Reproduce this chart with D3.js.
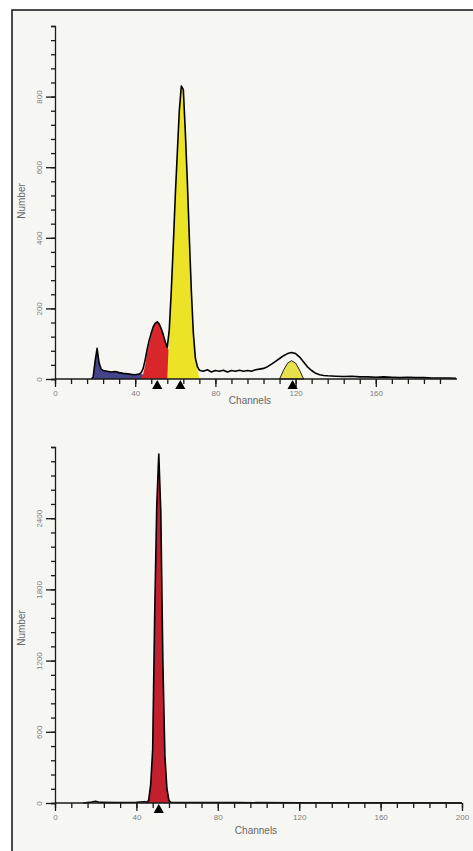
<!DOCTYPE html>
<meta charset="utf-8">
<script src="https://d3js.org/d3.v7.min.js"></script>
<style>
  body { margin: 0; background: #fff; }
  text { font-family: "Liberation Sans", Arial, sans-serif; }
</style>
<div id="my_dataviz"></div>
<script>
  // ---- data: [channel, number] ----
  // upper histogram
  var topOutline = [[18,0],[19,5],[20,50],[21,87],[22,45],[23,28],[24,24],[26,22],[28,20],[30,21],[32,18],[34,16],[36,15],[38,13],[40,12],[42,14],[43,18],[44,30],[45,55],[46,85],[47,110],[48,130],[49,148],[50,158],[51,162],[52,156],[53,142],[54,125],[55,105],[56,90],[57,140],[58,250],[59,380],[60,520],[61,640],[62,760],[63,830],[64,820],[65,700],[66,560],[67,400],[68,250],[69,130],[70,60],[71,35],[72,25],[74,22],[76,26],[78,20],[80,24],[82,22],[84,25],[86,20],[88,24],[90,22],[92,25],[94,22],[96,24],[98,22],[100,26],[102,28],[104,30],[106,35],[108,42],[110,50],[112,58],[114,66],[116,72],[118,75],[120,72],[122,62],[124,48],[126,34],[128,24],[130,16],[132,12],[134,10],[136,9],[140,8],[144,7],[148,8],[152,6],[156,6],[160,5],[164,6],[168,5],[172,4],[176,5],[180,4],[184,4],[188,3],[192,3],[196,3],[200,2]];
  var topDebris = [[18,0],[19,5],[20,50],[21,87],[22,45],[23,28],[24,24],[26,22],[28,20],[30,21],[32,18],[34,16],[36,15],[38,13],[40,12],[42,14],[43,14],[44,12],[46,8],[48,0]];
  var topRed = [[43,0],[44,15],[45,40],[46,75],[47,100],[48,125],[49,145],[50,156],[51,162],[52,156],[53,142],[54,125],[55,105],[56,90],[57,80],[58,0]];
  var topYellow = [[56,0],[57,140],[58,250],[59,380],[60,520],[61,640],[62,760],[63,830],[64,820],[65,700],[66,560],[67,400],[68,250],[69,130],[70,60],[71,30],[72,0]];
  var topYellowG2 = [[112,0],[114,25],[116,45],[118,52],[120,45],[122,25],[124,0]];
  var topMarkers = [51, 62.5, 118.5];

  // lower histogram
  var bottomOutline = [[14,0],[18,8],[20,15],[22,5],[30,4],[40,6],[44,10],[45,5],[46,20],[47,150],[48,450],[49,1600],[50,2500],[51,2940],[52,2450],[53,1200],[54,400],[55,120],[56,20],[57,5],[70,4],[90,3],[120,2],[160,2],[200,0]];
  var bottomRed = [[45,0],[46,20],[47,150],[48,450],[49,1600],[50,2500],[51,2940],[52,2450],[53,1200],[54,400],[55,120],[56,20],[57,0]];
  var bottomMarkers = [51];

  // axis ticks
  var topYLabels = [0, 200, 400, 600, 800];
  var bottomYLabels = [0, 600, 1200, 1800, 2400];
  var topXLabels = [0, 40, 80, 120, 160];
  var bottomXLabels = [0, 40, 80, 120, 160, 200];

  var W = 473, H = 851;
  var svg = d3.select("#my_dataviz").append("svg")
    .attr("width", W).attr("height", H);

  // panel background + frame (only left/top edges visible)
  svg.append("rect").attr("x", 12).attr("y", 10)
    .attr("width", W + 10).attr("height", H + 10)
    .attr("fill", "#f6f6f3").attr("stroke", "#111").attr("stroke-width", 1.5);

  function drawPanel(opt) {
    var x = d3.scaleLinear().domain([0, 200]).range(opt.xRange);
    var y = d3.scaleLinear().domain([0, opt.yMax]).range(opt.yRange);
    var g = svg.append("g");

    var area = d3.area()
      .x(function (d) { return x(d[0]); })
      .y0(y(0))
      .y1(function (d) { return y(d[1]); });
    var line = d3.line()
      .x(function (d) { return x(d[0]); })
      .y(function (d) { return y(d[1]); });

    opt.fills.forEach(function (f) {
      g.append("path").datum(f.data)
        .attr("d", area)
        .attr("fill", f.color)
        .attr("stroke", f.stroke || "none")
        .attr("stroke-width", 1);
    });
    g.append("path").datum(opt.outline)
      .attr("d", line)
      .attr("fill", "none")
      .attr("stroke", "#000")
      .attr("stroke-width", 1.6)
      .attr("stroke-linejoin", "round");

    // y axis: minor + major ticks
    var yg = g.append("g").attr("transform", "translate(" + x(0) + ",0)");
    yg.call(d3.axisLeft(y).tickValues(d3.range(0, opt.yMax + 1, opt.yMinor))
      .tickSize(4).tickFormat(""));
    var yMaj = g.append("g").attr("transform", "translate(" + x(0) + ",0)")
      .call(d3.axisLeft(y).tickValues(opt.yLabels).tickSize(9).tickFormat(d3.format("d")));
    yMaj.select(".domain").remove();
    yMaj.selectAll("text")
      .attr("x", 0).attr("dy", 0)
      .attr("transform", "translate(-13,0) rotate(-90)")
      .style("text-anchor", "middle")
      .attr("fill", "#808080").attr("font-size", 8);

    // x axis
    var xg = g.append("g").attr("transform", "translate(0," + y(0) + ")");
    xg.call(d3.axisBottom(x).tickValues(d3.range(0, opt.xMax + 1, 8))
      .tickSize(5).tickFormat("").tickSizeOuter(0));
    xg.select(".domain").attr("d", "M" + x(0) + ",0H" + opt.xEnd);
    var xMaj = g.append("g").attr("transform", "translate(0," + y(0) + ")")
      .call(d3.axisBottom(x).tickValues(opt.xLabels).tickSize(8).tickPadding(3));
    xMaj.select(".domain").remove();
    xMaj.selectAll("text").attr("fill", "#808080").attr("font-size", 8);

    g.selectAll(".domain, .tick line").attr("stroke", "#1a1a1a").attr("stroke-width", 1.3);

    // peak markers
    g.selectAll(".marker").data(opt.markers).enter().append("path")
      .attr("class", "marker")
      .attr("d", d3.symbol().type(d3.symbolTriangle).size(45))
      .attr("transform", function (d) { return "translate(" + x(d) + "," + (y(0) + 7) + ")"; })
      .attr("fill", "#000");

    // axis titles
    g.append("text")
      .attr("transform", "translate(" + opt.yTitle[0] + "," + opt.yTitle[1] + ") rotate(-90)")
      .attr("text-anchor", "middle")
      .attr("font-size", 10).attr("fill", "#666")
      .text("Number");
    g.append("text")
      .attr("x", opt.xTitle[0]).attr("y", opt.xTitle[1])
      .attr("text-anchor", "middle")
      .attr("font-size", 10).attr("fill", "#666")
      .text("Channels");
  }

  drawPanel({
    xRange: [55, 456], yRange: [379, 26], yMax: 1000, yMinor: 40, xMax: 192, xEnd: 457,
    yLabels: topYLabels, xLabels: topXLabels, markers: topMarkers,
    outline: topOutline,
    fills: [
      { data: topDebris, color: "#45448a" },
      { data: topRed, color: "#d9262b" },
      { data: topYellow, color: "#ece327" },
      { data: topYellowG2, color: "#e6e04a", stroke: "#222" }
    ],
    yTitle: [25, 201], xTitle: [250, 404]
  });

  drawPanel({
    xRange: [55, 462], yRange: [803, 447], yMax: 3000, yMinor: 120, xMax: 200, xEnd: 462,
    yLabels: bottomYLabels, xLabels: bottomXLabels, markers: bottomMarkers,
    outline: bottomOutline,
    fills: [
      { data: bottomRed, color: "#c2202f" }
    ],
    yTitle: [25, 628], xTitle: [256, 834]
  });
</script>
